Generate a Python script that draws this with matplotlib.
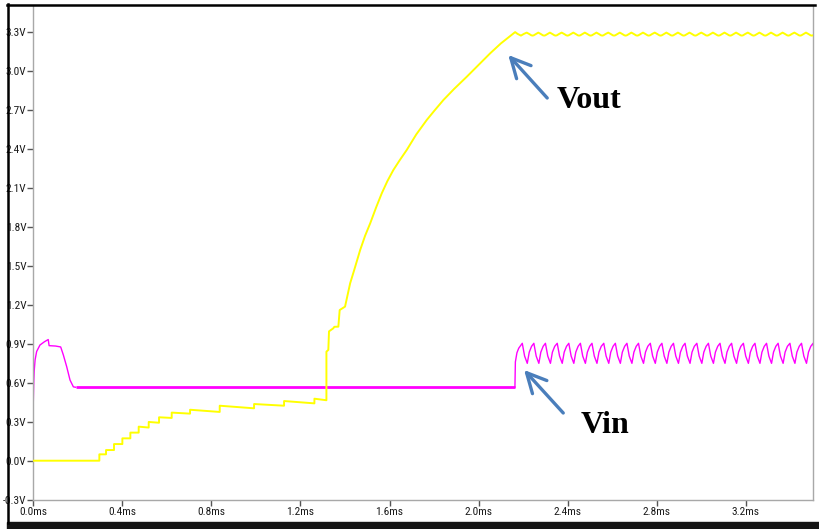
import matplotlib
matplotlib.use('Agg')
import matplotlib.pyplot as plt
from matplotlib.lines import Line2D
from matplotlib.patches import Rectangle
from matplotlib import font_manager

# ---------------- data ----------------
# Vout staircase (ms, V)
vout_step_t = [0.000, 0.2966, 0.2966, 0.3266, 0.3266, 0.3625, 0.3625, 0.400, 0.400, 0.4359,
               0.4359, 0.4733, 0.4733, 0.5183, 0.5183, 0.5647, 0.5647, 0.6216, 0.6216, 0.7040,
               0.7040, 0.8372, 0.8372, 0.9915, 0.9915, 1.1262, 1.1262, 1.2625, 1.2625, 1.3164]
vout_step_v = [0.000, 0.000, 0.049, 0.049, 0.082, 0.082, 0.128, 0.128, 0.172, 0.172,
               0.216, 0.216, 0.262, 0.255, 0.298, 0.292, 0.334, 0.329, 0.370, 0.362,
               0.392, 0.375, 0.423, 0.403, 0.436, 0.423, 0.459, 0.441, 0.477, 0.465]
# Vout charging curve
vout_rise_t = [1.3164, 1.3164, 1.325, 1.328, 1.347, 1.352, 1.370, 1.376, 1.400, 1.423,
               1.440, 1.468, 1.490, 1.513, 1.540, 1.565, 1.590, 1.617, 1.645, 1.677,
               1.720, 1.767, 1.800, 1.842, 1.890, 1.947, 2.000, 2.052, 2.100, 2.164]
vout_rise_v = [0.465, 0.839, 0.852, 0.995, 1.018, 1.030, 1.031, 1.159, 1.185, 1.365,
               1.460, 1.621, 1.730, 1.826, 1.950, 2.057, 2.150, 2.236, 2.310, 2.390,
               2.510, 2.621, 2.690, 2.775, 2.860, 2.954, 3.045, 3.134, 3.210, 3.297]
vout_pre_t = [2.175, 2.190, 2.203]
vout_pre_v = [3.283, 3.270, 3.283]
# Vout ripple: bump times and one cycle shape
vout_peak_t = [2.216, 2.268, 2.320, 2.373, 2.425, 2.477, 2.529, 2.582, 2.634, 2.686,
               2.738, 2.791, 2.843, 2.895, 2.947, 3.000, 3.052, 3.104, 3.156, 3.209,
               3.261, 3.313, 3.365, 3.418, 3.470]
vout_cycle_frac = [0.0, 0.2, 0.4, 0.5, 0.6, 0.8]
vout_cycle_v = [3.293, 3.283, 3.272, 3.270, 3.272, 3.283]
ripple_period = 0.0522

# Vin start-up
vin_start_t = [0.000, 0.000, 0.002, 0.004, 0.008, 0.015, 0.030, 0.050, 0.067, 0.071,
               0.100, 0.123, 0.135, 0.150, 0.165, 0.180, 0.190]
vin_start_v = [0.110, 0.450, 0.600, 0.690, 0.775, 0.840, 0.890, 0.915, 0.932, 0.885,
               0.882, 0.875, 0.813, 0.723, 0.620, 0.568, 0.565]
# Vin flat part
vin_flat_t = [0.190, 2.163]
vin_flat_v = [0.565, 0.565]
# Vin jump and ripple
vin_jump_t = [2.163, 2.165, 2.172, 2.180]
vin_jump_v = [0.565, 0.760, 0.830, 0.865]
vin_peak_t = [2.196, 2.248, 2.300, 2.353, 2.405, 2.457, 2.509, 2.562, 2.614, 2.666,
              2.718, 2.771, 2.823, 2.875, 2.927, 2.980, 3.032, 3.084, 3.136, 3.189,
              3.241, 3.293, 3.345, 3.398, 3.450, 3.502]
vin_cycle_frac = [0.0, 0.2, 0.43, 0.6, 0.8]
vin_cycle_v = [0.903, 0.805, 0.749, 0.835, 0.880]

x_ticks = [0.0, 0.4, 0.8, 1.2, 1.6, 2.0, 2.4, 2.8, 3.2]
x_tick_labels = ['0.0ms', '0.4ms', '0.8ms', '1.2ms', '1.6ms', '2.0ms', '2.4ms', '2.8ms', '3.2ms']
y_ticks = [-0.3, 0.0, 0.3, 0.6, 0.9, 1.2, 1.5, 1.8, 2.1, 2.4, 2.7, 3.0, 3.3]
y_tick_labels = ['-0.3V', '0.0V', '0.3V', '0.6V', '0.9V', '1.2V', '1.5V', '1.8V', '2.1V',
                 '2.4V', '2.7V', '3.0V', '3.3V']

# ---------------- build the ripple series from the read values ----------------
vout_rip_t, vout_rip_v = [], []
for p in vout_peak_t:
    for f, v in zip(vout_cycle_frac, vout_cycle_v):
        vout_rip_t.append(p + f * ripple_period)
        vout_rip_v.append(v)

vin_rip_t, vin_rip_v = [], []
for p in vin_peak_t:
    for f, v in zip(vin_cycle_frac, vin_cycle_v):
        vin_rip_t.append(p + f * ripple_period)
        vin_rip_v.append(v)

vout_t = vout_step_t + vout_rise_t + vout_pre_t + vout_rip_t
vout_v = vout_step_v + vout_rise_v + vout_pre_v + vout_rip_v
vin_t3 = vin_jump_t + vin_rip_t
vin_v3 = vin_jump_v + vin_rip_v


# ---------------- tick font: prefer a narrow sans face ----------------
def pick_tick_font():
    prefs = ['Liberation Sans Narrow', 'Roboto Condensed', 'DejaVu Sans', 'Open Sans',
             'Noto Sans', 'Roboto']
    narrow = []
    for f in font_manager.fontManager.ttflist:
        is_narrow = (str(f.stretch) in ('condensed', 'semi-condensed', 'extra-condensed',
                                          'ultra-condensed')
                     or 'Narrow' in f.name or 'Condensed' in f.name
                     or 'Narrow' in f.fname or 'Condensed' in f.fname)
        if is_narrow and f.weight in ('normal', 400, 'regular', 'book') and f.style == 'normal':
            narrow.append(f)
    for p in prefs:
        for f in narrow:
            if f.name.startswith(p):
                return font_manager.FontProperties(fname=f.fname, size=8.2)
    return font_manager.FontProperties(family=['Liberation Sans', 'DejaVu Sans'], size=6.8)


fp = pick_tick_font()

# ---------------- figure ----------------
W, H = 820, 529
fig = plt.figure(figsize=(W / 100, H / 100), dpi=100, facecolor='white')
ax = fig.add_axes([33.3 / W, 29.3 / H, 780 / W, 494 / H])
ax.set_facecolor('white')

MAG = '#ff00ff'
YEL = '#ffff00'
ax.plot(vin_start_t, vin_start_v, color=MAG, lw=1.0, zorder=2)
ax.plot(vin_flat_t, vin_flat_v, color=MAG, lw=2.0, zorder=2, solid_capstyle='butt')
ax.plot(vin_t3, vin_v3, color=MAG, lw=1.0, zorder=2)
ax.plot(vout_t, vout_v, color=YEL, lw=1.4, zorder=3)

ax.set_xlim(0, 3.503)
ax.set_ylim(-0.3, 3.5)
ax.set_xticks(x_ticks)
ax.set_xticklabels(x_tick_labels, fontproperties=fp, color='#1a1a1a')
ax.set_yticks(y_ticks)
ax.set_yticklabels(y_tick_labels, fontproperties=fp, color='#1a1a1a')
ax.tick_params(axis='both', direction='out', length=4, width=1, color='#555555', pad=1)

for s in ['left', 'bottom', 'right']:
    ax.spines[s].set_color('#a8a8a8')
    ax.spines[s].set_linewidth(1.0)
ax.spines['top'].set_visible(False)

# annotations
ARROW = '#4a7ebb'
ax.annotate('', xy=(2.133, 3.121), xytext=(2.308, 2.790),
            arrowprops=dict(arrowstyle='->,head_length=0.7,head_width=0.35',
                            color=ARROW, lw=2.4, mutation_scale=20, shrinkA=0, shrinkB=0))
ax.annotate('', xy=(2.204, 0.698), xytext=(2.380, 0.367),
            arrowprops=dict(arrowstyle='->,head_length=0.7,head_width=0.35',
                            color=ARROW, lw=2.4, mutation_scale=20, shrinkA=0, shrinkB=0))
ax.text(2.352, 2.713, 'Vout', family=['Liberation Serif', 'DejaVu Serif'], fontweight='bold',
        fontsize=23, color='black', ha='left', va='baseline')
ax.text(2.460, 0.211, 'Vin', family=['Liberation Serif', 'DejaVu Serif'], fontweight='bold',
        fontsize=23, color='black', ha='left', va='baseline')

# outer frame of the screenshot
fig.add_artist(Line2D([8 / W, 8 / W], [1 - 4 / H, 1 - 523 / H], color='black', lw=1.8,
                      transform=fig.transFigure))
fig.add_artist(Line2D([7 / W, 815 / W], [1 - 5 / H, 1 - 5 / H], color='black', lw=1.8,
                      transform=fig.transFigure))
fig.add_artist(Rectangle((7 / W, 0), 1 - 7 / W, 7 / H, color='#151515',
                         transform=fig.transFigure))

fig.savefig('out.png', dpi=100, facecolor='white')
